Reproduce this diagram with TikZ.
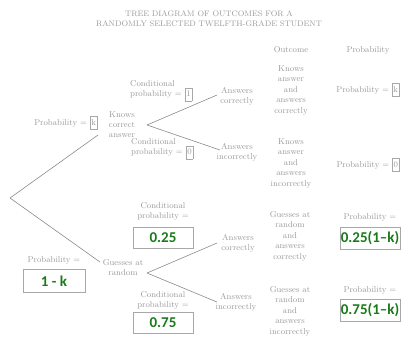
\documentclass[tikz,border=0pt]{standalone}
\usepackage{fontspec}
\newfontfamily\greenfont{Carlito}
\definecolor{txt}{HTML}{9A9A9A}
\definecolor{ln}{HTML}{8A8A8A}
\definecolor{bx}{HTML}{A8A8A8}
\definecolor{grn}{HTML}{1A7A1A}
\newcommand\sqbox[1]{{\setlength\fboxsep{1.2pt}\setlength\fboxrule{0.5pt}\fcolorbox{bx}{white}{\strut #1}}}
\begin{document}
\begin{tikzpicture}[x=1pt,y=-1pt,
  lbl/.style={text=txt, font=\fontsize{8.5}{10}\selectfont, align=center, inner sep=0pt},
  outc/.style={text=txt, font=\fontsize{8.5}{10.5}\selectfont, align=center, inner sep=0pt},
  br/.style={draw=ln, line width=0.6pt},
  gbox/.style={draw=bx, line width=0.7pt, text=grn, font=\greenfont\bfseries\fontsize{15}{15}\selectfont, inner sep=0pt, minimum width=60pt, minimum height=21pt},
]
\useasboundingbox (0,0) rectangle (401,338);
% title and headers
\node[lbl, font=\fontsize{8}{10}\selectfont] (title) at (209,19) {TREE DIAGRAM OF OUTCOMES FOR A\\RANDOMLY SELECTED TWELFTH-GRADE STUDENT};
\node[lbl] (hout) at (291,50) {Outcome};
\node[lbl] (hprob) at (368,50) {Probability};
% first level
\node[lbl] (knows) at (122,125) {Knows\\correct\\answer};
\node[lbl] (pk) at (66,123) {Probability = \sqbox{k}};
\node[lbl] (guess) at (123,268) {Guesses at\\random};
\node[lbl] (pl) at (54,260) {Probability =};
\node[gbox, minimum width=62pt, minimum height=23pt] (plb) at (54,281) {1 - k};
% second level, knows
\node[lbl, align=left, anchor=west] (cp1) at (130,91) {Conditional\\probability = \sqbox{1}};
\node[lbl, align=left, anchor=west] (cp0) at (131,149) {Conditional\\probability = \sqbox{0}};
\node[lbl] (ac1) at (237,96) {Answers\\correctly};
\node[lbl] (ai1) at (237,152) {Answers\\incorrectly};
% second level, guesses
\node[lbl] (cpa) at (163,211) {Conditional\\probability =};
\node[gbox] (cpab) at (163,238) {0.25};
\node[lbl] (cpb) at (163,300) {Conditional\\probability =};
\node[gbox] (cpbb) at (163,323) {0.75};
\node[lbl] (ac2) at (238,243) {Answers\\correctly};
\node[lbl] (ai2) at (236,302) {Answers\\incorrectly};
% outcomes
\node[outc] (o1) at (291,90) {Knows\\answer\\and\\answers\\correctly};
\node[outc] (o2) at (291,163) {Knows\\answer\\and\\answers\\incorrectly};
\node[outc] (o3) at (290,236) {Guesses at\\random\\and\\answers\\correctly};
\node[outc] (o4) at (290,311) {Guesses at\\random\\and\\answers\\incorrectly};
% probabilities
\node[lbl, anchor=east] (p1) at (400,90) {Probability = \sqbox{k}};
\node[lbl, anchor=east] (p2) at (400,165) {Probability = \sqbox{0}};
\node[lbl] (pa) at (370,217) {Probability =};
\node[gbox, minimum height=22pt] (pab) at (370,238) {0.25(1–k)};
\node[lbl] (pb) at (370,290) {Probability =};
\node[gbox, minimum height=22pt] (pbb) at (370,310) {0.75(1–k)};
% branch points
\coordinate (root) at (10,198);
\coordinate (kin) at (98,135);
\coordinate (gin) at (100,262);
\coordinate (kout) at (147,125);
\coordinate (gout) at (147,273);
\coordinate (ac1in) at (217,95);
\coordinate (ai1in) at (220,150);
\coordinate (ac2in) at (217,243);
\coordinate (ai2in) at (217,302);
\draw[br] (root) -- (kin);
\draw[br] (root) -- (gin);
\draw[br] (kout) -- (ac1in);
\draw[br] (kout) -- (ai1in);
\draw[br] (gout) -- (ac2in);
\draw[br] (gout) -- (ai2in);
\end{tikzpicture}
\end{document}
